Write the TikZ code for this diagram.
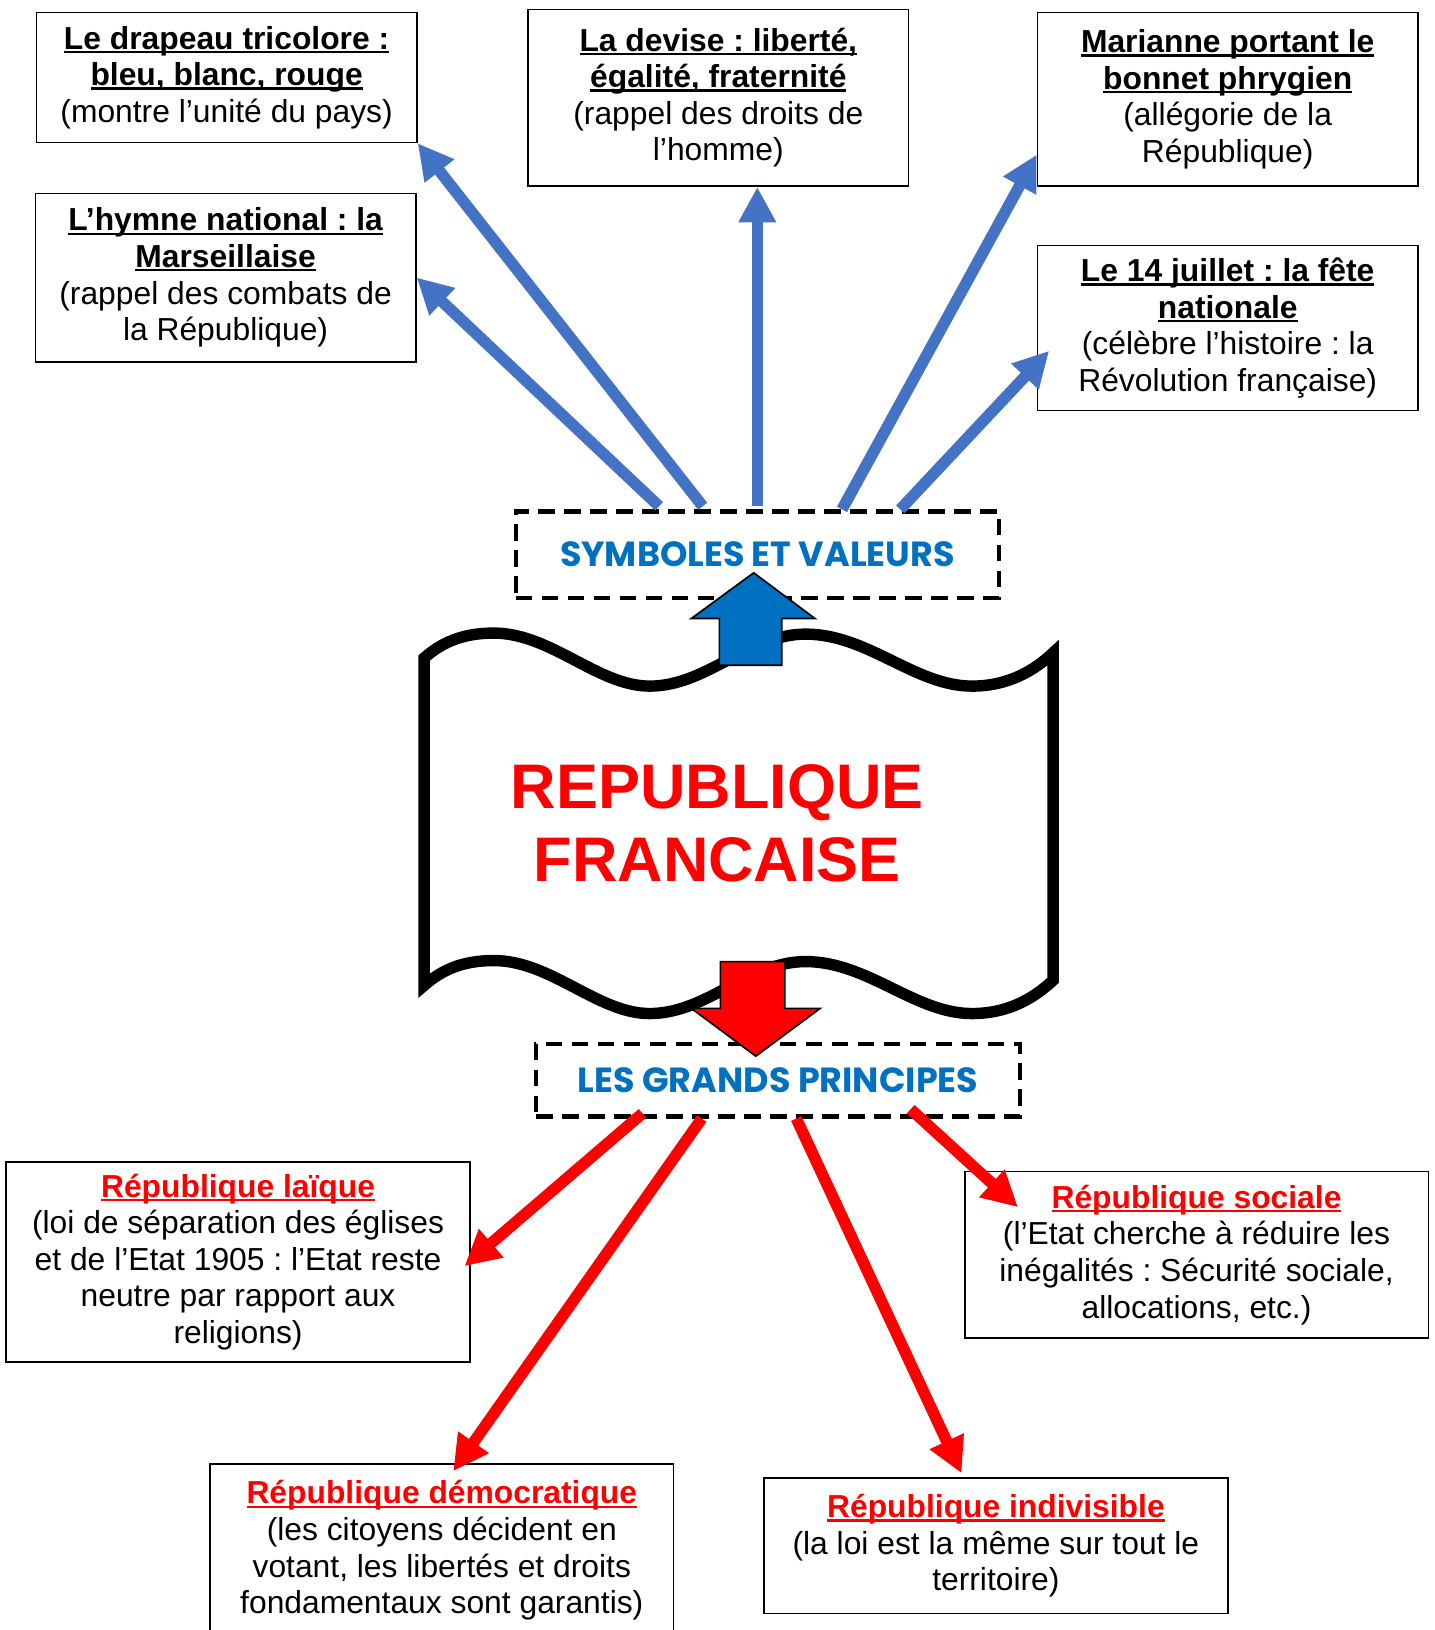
\documentclass[tikz,border=0pt]{standalone}
\usepackage{fontspec}
\setmainfont{Liberation Sans}
\newfontfamily\comicfont{Poppins}
\usetikzlibrary{arrows.meta,calc}
\definecolor{valblue}{HTML}{0070C0}
\definecolor{arrblue}{HTML}{4472C4}
\frenchspacing
\newcommand{\bodyfont}{\fontsize{15.3}{17.6}\selectfont}
\newcommand{\ulbox}[1]{\setbox0\hbox{#1}\leavevmode\rlap{\rule[-1.9pt]{\wd0}{1.1pt}}\box0}
\newcommand{\titl}[1]{\textbf{\ulbox{#1}}}
\newcommand{\rtitl}[1]{\textcolor{red}{\textbf{\ulbox{#1}}}}
\begin{document}
\begin{tikzpicture}[x=0.5pt, y=-0.5pt,
  txtbox/.style={draw, line width=0.8pt, align=center, font=\bodyfont, inner sep=0pt},
  dashbox/.style={draw, line width=2pt, dash pattern=on 8pt off 4.5pt, text=valblue,
    font=\comicfont\bfseries\fontsize{16.8}{18}\selectfont},
  bluearr/.style={arrblue, line width=5.5pt, -{Triangle[length=17pt, width=17pt]}},
  redarr/.style={red, line width=5.5pt, -{Triangle[length=17pt, width=17pt]}}]
\useasboundingbox (0,0) rectangle (1380,1568);
%
% the scroll
\draw[line width=5.5pt, fill=white] (408,633) .. controls (425,618) and (445,609) .. (475,609)
  .. controls (530,609) and (575,660) .. (625,660)
  .. controls (680,660) and (720,610) .. (775,610)
  .. controls (835,610) and (880,660) .. (935,660)
  .. controls (970,660) and (995,645) .. (1013,628) -- (1013,943)
  .. controls (995,960) and (970,975) .. (935,975)
  .. controls (880,975) and (835,925) .. (775,925)
  .. controls (720,925) and (680,975) .. (625,975)
  .. controls (575,975) and (530,924) .. (475,924)
  .. controls (445,924) and (425,933) .. (408,948) -- cycle;
\node[font=\bfseries\fontsize{30.3}{35}\selectfont, text=red, align=center] (titre) at (690,792) {REPUBLIQUE\\FRANCAISE};
%
% symboles
\node[txtbox, minimum width=183pt, minimum height=62.5pt] (drapeau) at (218,74.5)
  {\titl{Le drapeau tricolore :}\\ \titl{bleu, blanc, rouge}\\ (montre l’unité du pays)};
\node[txtbox, minimum width=183pt, minimum height=81pt] (hymne) at (217,267)
  {\titl{L’hymne national : la}\\ \titl{Marseillaise}\\ (rappel des combats de\\ la République)};
\node[txtbox, minimum width=183pt, minimum height=85pt] (devise) at (691,94)
  {\titl{La devise : liberté,}\\ \titl{égalité, fraternité}\\ (rappel des droits de\\ l’homme)};
\node[txtbox, minimum width=183pt, minimum height=83.5pt] (marianne) at (1181,95.5)
  {\titl{Marianne portant le}\\ \titl{bonnet phrygien}\\ (allégorie de la\\ République)};
\node[txtbox, minimum width=183pt, minimum height=79.5pt] (juillet) at (1181,315.5)
  {\titl{Le 14 juillet : la fête}\\ \titl{nationale}\\ (célèbre l’histoire : la\\ Révolution française)};
\node[dashbox, minimum width=232.5pt, minimum height=41.5pt] (sym) at (728.5,533.5) {SYMBOLES ET VALEURS};
%
\draw[bluearr] ($(sym.north west)+(140,-3)$) -- (hymne.east);
\draw[bluearr] ($(sym.north west)+(182,-3)$) -- (drapeau.south east);
\draw[bluearr] ($(sym.north)+(0,-3)$) -- (sym.north |- devise.south);
\draw[bluearr] ($(sym.north west)+(316,0)$) -- ($(marianne.south west)+(0,-31)$);
\draw[bluearr] ($(sym.north west)+(372,0)$) -- ($(juillet.west)+(12,22)$);
%
% principes
\node[dashbox, minimum width=232.5pt, minimum height=35pt] (princ) at (748.5,1039) {LES GRANDS PRINCIPES};
\node[txtbox, minimum width=223pt, minimum height=96pt] (laique) at (229,1214)
  {\rtitl{République laïque}\\ (loi de séparation des églises\\ et de l’Etat 1905 : l’Etat reste\\ neutre par rapport aux\\ religions)};
\node[txtbox, minimum width=223pt, minimum height=80pt] (sociale) at (1151,1207)
  {\rtitl{République sociale}\\ (l’Etat cherche à réduire les\\ inégalités : Sécurité sociale,\\ allocations, etc.)};
\node[txtbox, minimum width=223pt, minimum height=83.5pt] (democ) at (425,1491.5)
  {\rtitl{République démocratique}\\ (les citoyens décident en\\ votant, les libertés et droits\\ fondamentaux sont garantis)};
\node[txtbox, minimum width=223pt, minimum height=65pt] (indiv) at (958,1487)
  {\rtitl{République indivisible}\\ (la loi est la même sur tout le\\ territoire)};
%
\draw[redarr] ($(princ.south west)+(104,-5)$) -- ($(laique.east)+(-6,4)$);
\draw[redarr] ($(princ.south west)+(161,0)$) -- ($(democ.north)+(11,8)$);
\draw[redarr] ($(princ.south west)+(252,0)$) -- ($(indiv.north)+(-33,-4)$);
\draw[redarr] ($(princ.south west)+(362,-9)$) -- ($(sociale.north west)+(52,35)$);
%
% block arrows
\draw[fill=valblue, line width=0.8pt] (692,640) -- (692,595) -- (665,595) -- (725,551) -- (784,595)
  -- (752,595) -- (752,640) -- cycle;
\draw[fill=red, line width=0.8pt] (693,925) -- (755,925) -- (755,970) -- (789,970) -- (727,1016)
  -- (665,970) -- (693,970) -- cycle;
\end{tikzpicture}
\end{document}
